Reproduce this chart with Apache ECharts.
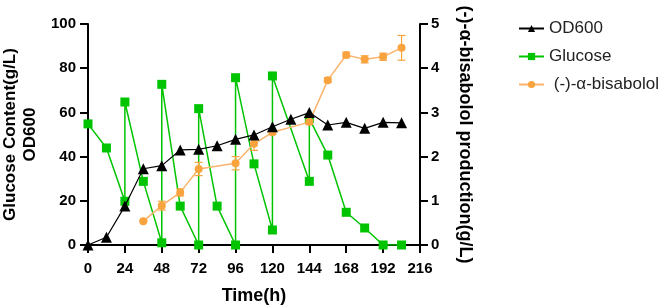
<!DOCTYPE html>
<html>
<head>
<meta charset="utf-8">
<script src="https://cdn.jsdelivr.net/npm/echarts@6/dist/echarts.min.js"></script>
<style>
  html, body { margin: 0; padding: 0; background: #fff; }
  #chart { width: 671px; height: 307px; }
</style>
</head>
<body>
<div id="chart"></div>
<script>
// OD600 (left axis)
var odTime = [0, 12, 24, 36, 48, 60, 72, 84, 96, 108, 120, 132, 144, 156, 168, 180, 192, 204];
var odValue = [0, 3.5, 17.6, 34.5, 35.9, 43, 43.3, 44.9, 47.8, 49.8, 53.5, 56.9, 59.9, 54.3, 55.5, 52.8, 55.5, 55.3];

// glucose feeding, repeated times are the feed jumps (left axis)
var gluTime = [0, 12, 24, 24, 36, 48, 48, 60, 72, 72, 84, 96, 96, 108, 120, 120, 144, 144, 156, 168, 180, 192, 204];
var gluValue = [54.8, 43.9, 19.8, 64.7, 28.8, 1, 72.7, 17.6, 0, 61.7, 17.6, 0, 75.7, 36.7, 6.8, 76.5, 28.8, 57.2, 40.7, 14.8, 7.7, 0, 0];

// (-)-α-bisabolol production g/L (right axis) with error
var bisTime = [36, 48, 60, 72, 96, 108, 120, 144, 156, 168, 180, 192, 204];
var bisValue = [0.54, 0.89, 1.19, 1.72, 1.85, 2.29, 2.55, 2.78, 3.73, 4.30, 4.20, 4.26, 4.46];
var bisErr = [0, 0.1, 0.08, 0.15, 0.15, 0.15, 0.05, 0.05, 0.05, 0.06, 0.08, 0.08, 0.28];

var xTicks = [0, 24, 48, 72, 96, 120, 144, 168, 192, 216];

var font = 'Liberation Sans, Arial, sans-serif';
var green = '#00c400';
var orange = '#f9a33f';

function zip(a, b) {
  return a.map(function (v, i) { return [v, b[i]]; });
}

var chart = echarts.init(document.getElementById('chart'));

var axisCommon = {
  axisLine: { show: true, lineStyle: { color: '#000', width: 2 } },
  axisTick: { show: true, inside: false, length: 8, lineStyle: { color: '#000', width: 2 } },
  splitLine: { show: false },
  axisLabel: { color: '#000', fontWeight: 'bold', fontSize: 15, fontFamily: font, margin: 12 }
};

chart.setOption({
  animation: false,
  grid: { left: 88, right: 251, top: 24, bottom: 62, outerBoundsMode: 'none', containLabel: false },
  legend: {
    orient: 'vertical',
    left: 513,
    top: 15,
    itemWidth: 25,
    itemHeight: 9,
    itemGap: 11,
    textStyle: { color: '#222', fontSize: 17, fontFamily: font },
    data: ['OD600', 'Glucose', ' (-)-α-bisabolol']
  },
  xAxis: Object.assign({}, axisCommon, {
    type: 'value',
    min: 0,
    max: 216,
    interval: 24,
    name: 'Time(h)',
    nameLocation: 'middle',
    nameGap: 42,
    nameTextStyle: { color: '#000', fontWeight: 'bold', fontSize: 18, fontFamily: font },
    axisLabel: Object.assign({}, axisCommon.axisLabel, {
      margin: 16,
      customValues: xTicks
    })
  }),
  yAxis: [
    Object.assign({}, axisCommon, {
      type: 'value',
      min: 0,
      max: 100,
      interval: 20,
      name: 'Glucose Content(g/L)\nOD600',
      nameLocation: 'middle',
      nameGap: 48,
      nameTextStyle: { color: '#000', fontWeight: 'bold', fontSize: 17, lineHeight: 20, fontFamily: font }
    }),
    Object.assign({}, axisCommon, {
      type: 'value',
      min: 0,
      max: 5,
      interval: 1,
      position: 'right',
      name: '(-)-α-bisabolol production(g/L)',
      nameLocation: 'middle',
      nameRotate: -90,
      nameGap: 36,
      nameTextStyle: { color: '#000', fontWeight: 'bold', fontSize: 18, fontFamily: font },
      axisLabel: Object.assign({}, axisCommon.axisLabel, { margin: 11 })
    })
  ],
  series: [
    {
      name: 'Glucose',
      type: 'line',
      data: zip(gluTime, gluValue),
      symbol: 'rect',
      symbolSize: 9,
      itemStyle: { color: green },
      lineStyle: { color: green, width: 1.5 },
      z: 2
    },
    {
      name: ' (-)-α-bisabolol',
      type: 'line',
      yAxisIndex: 1,
      data: zip(bisTime, bisValue),
      symbol: 'circle',
      symbolSize: 8,
      itemStyle: { color: orange },
      lineStyle: { color: '#fbb46e', width: 1.5 },
      z: 3
    },
    {
      name: 'bisErr',
      type: 'custom',
      yAxisIndex: 1,
      data: bisTime.map(function (t, i) { return [t, bisValue[i] - bisErr[i], bisValue[i] + bisErr[i]]; }),
      renderItem: function (params, api) {
        var lo = api.coord([api.value(0), api.value(1)]);
        var hi = api.coord([api.value(0), api.value(2)]);
        var w = 4;
        var style = { stroke: orange, lineWidth: 1.2 };
        return {
          type: 'group',
          children: [
            { type: 'line', shape: { x1: lo[0], y1: lo[1], x2: hi[0], y2: hi[1] }, style: style },
            { type: 'line', shape: { x1: lo[0] - w, y1: lo[1], x2: lo[0] + w, y2: lo[1] }, style: style },
            { type: 'line', shape: { x1: hi[0] - w, y1: hi[1], x2: hi[0] + w, y2: hi[1] }, style: style }
          ]
        };
      },
      z: 3
    },
    {
      name: 'OD600',
      type: 'line',
      data: zip(odTime, odValue),
      symbol: 'triangle',
      symbolSize: 11,
      itemStyle: { color: '#000' },
      lineStyle: { color: '#000', width: 1.2 },
      z: 4
    }
  ]
});
</script>
</body>
</html>
